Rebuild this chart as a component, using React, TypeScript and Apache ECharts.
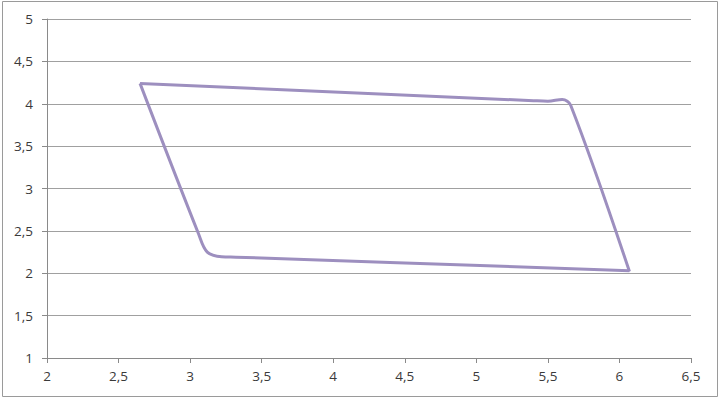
import React, { useEffect, useRef } from "react";
import * as echarts from "echarts";

const upperX = [2.65, 5.4, 5.5, 5.6, 5.66, 6.07];
const upperY = [4.24, 4.036, 4.03, 4.05, 3.98, 2.02];
const lowerX = [6.07, 3.32, 3.22, 3.12, 3.06, 2.65];
const lowerY = [2.03, 2.19, 2.195, 2.25, 2.46, 4.24];

const xTicks = { min: 2, max: 6.5, interval: 0.5 };
const yTicks = { min: 1, max: 5, interval: 0.5 };

const LINE_COLOR = "#9d8fbf";
const fmt = (v: number) => String(v).replace(".", ",");

export default function App() {
  const ref = useRef<HTMLDivElement>(null);
  useEffect(() => {
    document.body.style.margin = "0";
    const chart = echarts.init(ref.current!, null, { renderer: "svg" });
    const font = "'Open Sans', 'Noto Sans', sans-serif";
    chart.setOption({
      animation: false,
      backgroundColor: "#ffffff",
      grid: { left: 47, right: 29, top: 19, bottom: 41 },
      graphic: [
        {
          type: "rect",
          shape: { x: 2.5, y: 1.5, width: 715, height: 395 },
          style: { fill: "none", stroke: "#9a9a9a", lineWidth: 1 },
          silent: true,
        },
      ],
      xAxis: {
        type: "value",
        min: xTicks.min,
        max: xTicks.max,
        interval: xTicks.interval,
        axisLine: { show: true, lineStyle: { color: "#8a8a8a", width: 1 } },
        axisTick: { show: true, length: 5, lineStyle: { color: "#8a8a8a" } },
        splitLine: { show: false },
        axisLabel: {
          color: "#3a3a3a",
          fontFamily: font,
          fontSize: 13.5,
          margin: 11,
          formatter: fmt,
        },
      },
      yAxis: {
        type: "value",
        min: yTicks.min,
        max: yTicks.max,
        interval: yTicks.interval,
        axisLine: { show: true, lineStyle: { color: "#8a8a8a", width: 1 } },
        axisTick: { show: true, length: 5, lineStyle: { color: "#8a8a8a" } },
        splitLine: { show: true, lineStyle: { color: "#a0a0a0", width: 1 } },
        axisLabel: {
          color: "#3a3a3a",
          fontFamily: font,
          fontSize: 13.5,
          margin: 14,
          formatter: fmt,
        },
      },
      series: [
        {
          type: "line",
          data: upperX.map((x, i) => [x, upperY[i]]),
          smooth: 0.35,
          symbol: "none",
          lineStyle: { color: LINE_COLOR, width: 3 },
        },
        {
          type: "line",
          data: lowerX.map((x, i) => [x, lowerY[i]]),
          smooth: 0.35,
          symbol: "none",
          lineStyle: { color: LINE_COLOR, width: 3 },
        },
      ],
    });
    return () => chart.dispose();
  }, []);
  return <div ref={ref} style={{ width: 720, height: 399 }} />;
}
